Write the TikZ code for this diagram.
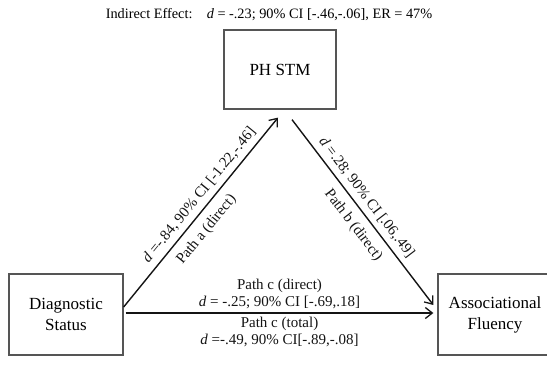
\documentclass[tikz,border=0pt]{standalone}
\usepackage{fontspec}
\setmainfont{Liberation Serif}
\usetikzlibrary{arrows.meta,positioning}
\definecolor{BoxGray}{RGB}{85,85,85}
\definecolor{InkBlack}{RGB}{20,20,20}
\tikzset{
  %% variable boxes
  varbox/.style={rectangle,draw=BoxGray,line width=1.3pt,
                 minimum width=114pt,minimum height=81pt,
                 font=\fontsize{17}{21}\selectfont,align=center,
                 inner sep=0pt},
  %% path labels
  pathlbl/.style={font=\fontsize{15}{17}\selectfont,align=center,
                  inner sep=2pt,text=InkBlack},
  %% arrows
  patharr/.style={-{Straight Barb[length=7pt,width=11pt,line width=1.3pt]},
                  line width=1.4pt,color=InkBlack},
}
\begin{document}
\begin{tikzpicture}[x=1pt,y=-1pt]
  \useasboundingbox (0,0) rectangle (547,365);
  \node[varbox] (diag)  at (66,314.5) {Diagnostic\\Status};
  \node[varbox,minimum width=112pt,minimum height=79pt] (phstm) at (280,69.5) {PH STM};
  \node[varbox] (assoc) at (495,314.5) {Associational\\Fluency};
  \node[font=\fontsize{14.3}{16}\selectfont] (title) at (269,15)
       {Indirect Effect:\quad\textit{d} = -.23; 90\% CI [-.46,-.06], ER = 47\%};

  % path a
  \draw[patharr] ([yshift=7.5pt]diag.east) -- ([xshift=-2pt,yshift=-8pt]phstm.south)
    node[pathlbl,pos=0.55,above=3pt,sloped] (alblA) {\textit{d} =-.84, 90\% CI [-1.22,-.46]}
    node[pathlbl,pos=0.46,below=6pt,sloped] (alblB) {Path a (direct)};
  % path b
  \draw[patharr] ([xshift=12pt,yshift=-10pt]phstm.south) -- ([xshift=-4pt,yshift=9.5pt]assoc.west)
    node[pathlbl,pos=0.46,above=3pt,sloped] (blblA) {\textit{d} =.28; 90\% CI [.06,.49]}
    node[pathlbl,pos=0.52,below=6pt,sloped] (blblB) {Path b (direct)};
  % path c
  \draw[patharr] ([xshift=2pt,yshift=1.5pt]diag.east) -- ([xshift=-4pt,yshift=1.5pt]assoc.west)
    node[pathlbl,midway,above,yshift=1pt] (clblA) {Path c (direct)\\\textit{d} = -.25; 90\% CI [-.69,.18]}
    node[pathlbl,midway,below,yshift=-1pt] (clblB) {Path c (total)\\\textit{d} =-.49, 90\% CI[-.89,-.08]};
\end{tikzpicture}
\end{document}
